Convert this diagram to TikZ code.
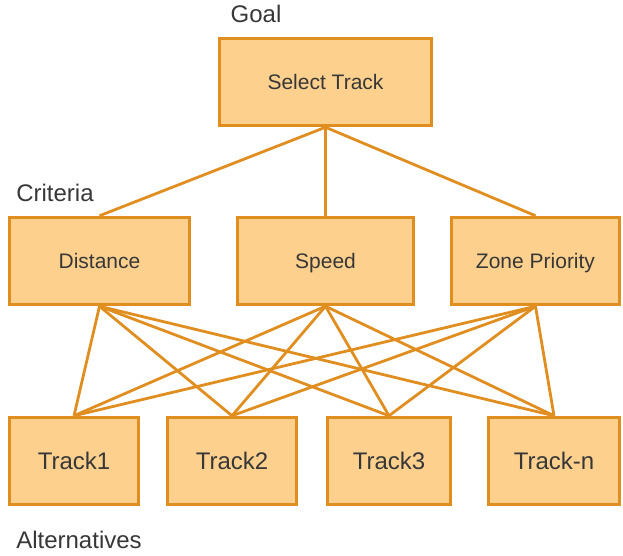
\documentclass[tikz,border=0pt]{standalone}
\usepackage{fontspec}
\setmainfont{Liberation Sans}
\usepackage{tikz}
\usetikzlibrary{positioning,backgrounds}
\usepackage{xcolor}
\definecolor{boxfill}{RGB}{253,208,142}
\definecolor{boxline}{RGB}{224,142,32}
\definecolor{labelgray}{RGB}{55,55,55}

\begin{document}
\begin{tikzpicture}[x=1pt,y=-1pt,
    ahpbox/.style={draw=boxline, fill=boxfill, line width=3.5pt, minimum height=87pt,
        text=labelgray, font=\fontsize{21}{25}\selectfont, inner sep=0pt,
        text height=16pt, text depth=1pt},
    trackbox/.style={ahpbox, font=\fontsize{24}{28}\selectfont,
        text height=18pt, text depth=1pt},
    levellabel/.style={text=labelgray, font=\fontsize{24}{28}\selectfont, inner sep=0pt},
    link/.style={draw=boxline, line width=2.8pt}]
    \useasboundingbox (0,0) rectangle (623,556);
    % Goal
    \node[levellabel] (goallbl) at (256,14) {Goal};
    \node[ahpbox, minimum width=212pt] (goal) at (325.5,82) {Select Track};
    % Criteria
    \node[levellabel] (critlbl) at (55,193) {Criteria};
    \node[ahpbox, minimum width=180pt] (dist) at (99.5,261) {Distance};
    \node[ahpbox, minimum width=176pt] (speed) at (325.5,261) {Speed};
    \node[ahpbox, minimum width=168pt] (zone) at (535.5,261) {Zone Priority};
    % Alternatives
    \node[trackbox, minimum width=129pt] (t1) at (74,461) {Track1};
    \node[trackbox, minimum width=129pt] (t2) at (232,461) {Track2};
    \node[trackbox, minimum width=123pt] (t3) at (389,461) {Track3};
    \node[trackbox, minimum width=131pt] (tn) at (554,461) {Track-n};
    \node[levellabel] (altlbl) at (79,540) {Alternatives};
    % Links
    \begin{scope}[on background layer]
        \foreach \c in {dist,speed,zone} {
            \draw[link] (goal.south) -- (\c.north);
            \foreach \t in {t1,t2,t3,tn}
                \draw[link] (\c.south) -- (\t.north);
        }
    \end{scope}
\end{tikzpicture}
\end{document}
